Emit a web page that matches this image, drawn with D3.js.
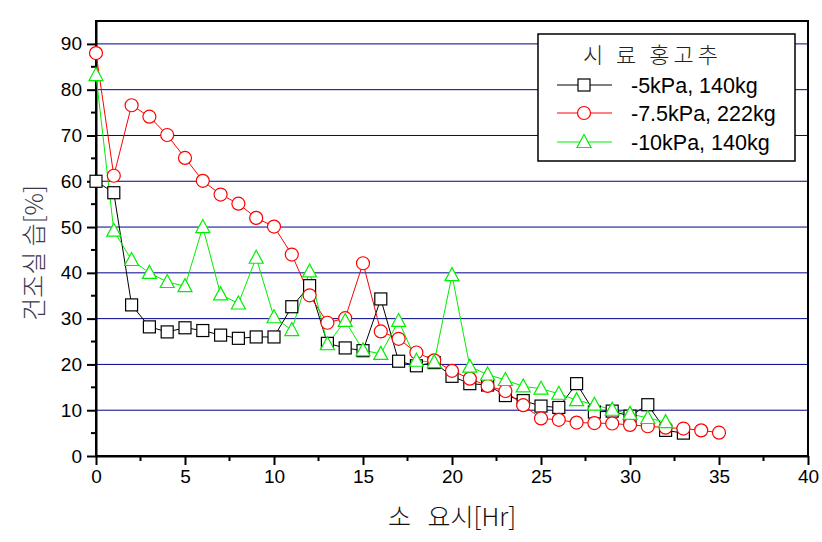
<!DOCTYPE html>
<html><head><meta charset="utf-8">
<script src="https://cdn.jsdelivr.net/npm/d3@7/dist/d3.min.js"></script>
<style>body{margin:0;background:#fff}svg{display:block}</style>
</head><body>
<svg id="c" width="822" height="542"></svg>
<script>
const xBlack = d3.range(0, 34);
const yBlack = [60,57.5,33,28.2,27.1,28,27.4,26.4,25.7,26,26,32.6,37.2,24.6,23.6,23,34.3,20.7,19.7,20.4,17.4,15.8,15.5,13.2,12.1,10.9,10.6,15.8,9.6,9.8,8.7,11.2,5.6,5];
const xRed = d3.range(0, 36);
const yRed = [88,61.2,76.6,74.1,70.1,65.1,60.1,57.1,55.1,52,50.1,44,35.1,29.1,30.1,42.1,27.2,25.6,22.6,20.9,18.6,16.9,15.3,14.2,11.1,8.2,7.9,7.3,7.2,7.1,6.8,6.5,6.2,6,5.6,5.1];
const xGreen = d3.range(0, 33);
const yGreen = [83.2,49.2,42.8,40,38,37.1,50,35.3,33.3,43.3,30.3,27.5,40.3,24.4,29.5,23.1,22.3,29.5,20.8,20.5,39.5,19.5,17.8,16.6,15.2,14.7,13.6,12.2,11.2,10.1,9.2,8.3,7.4];
const seriesNames = ["-5kPa, 140kg", "-7.5kPa, 222kg", "-10kPa, 140kg"];
const legendTitle = "시 료 홍고추";
const xTitle = "소\u00a0\u00a0\u00a0요시[Hr]";
const yTitle = "건조실\u00a0습[%]";
const xTicks = [0,5,10,15,20,25,30,35,40];
const yTicks = [0,10,20,30,40,50,60,70,80,90];

const svg = d3.select("#c");
const L = 96, R = 808, T = 21, B = 456;
const x = d3.scaleLinear().domain([0,40]).range([L,R]);
const y = d3.scaleLinear().domain([0,95]).range([B,T]);
const font = "'Liberation Sans', Arial, sans-serif";
const kfont = "'Noto Sans CJK KR', sans-serif";

// gridlines
svg.append("g").selectAll("line").data(yTicks.filter(d=>d>0)).join("line")
  .attr("x1",L).attr("x2",R).attr("y1",d=>y(d)).attr("y2",d=>y(d))
  .attr("stroke","#00008b").attr("stroke-width",1);

// frame
svg.append("rect").attr("x",L).attr("y",T).attr("width",R-L).attr("height",B-T)
  .attr("fill","none").attr("stroke","#000").attr("stroke-width",2);

// axes
const xAxis = d3.axisBottom(x).tickValues(xTicks).tickSize(9).tickSizeOuter(0);
const gx = svg.append("g").attr("transform",`translate(0,${B})`).call(xAxis);
const yAxis = d3.axisLeft(y).tickValues(yTicks).tickSize(9).tickSizeOuter(0);
const gy = svg.append("g").attr("transform",`translate(${L},0)`).call(yAxis);
[gx,gy].forEach(g=>{
  g.select(".domain").attr("stroke","#000").attr("stroke-width",2);
  g.selectAll(".tick line").attr("stroke","#000").attr("stroke-width",2);
  g.selectAll(".tick text").attr("fill","#000").style("font-family",font).style("font-size","19px");
});
gx.selectAll(".tick text").attr("dy","0.71em").attr("y",14);
gy.selectAll(".tick text").attr("x",-14);
// minor ticks
const xMinor = d3.range(2.5,40,5);
svg.append("g").selectAll("line").data(xMinor).join("line")
  .attr("x1",d=>x(d)).attr("x2",d=>x(d)).attr("y1",B).attr("y2",B+5)
  .attr("stroke","#000").attr("stroke-width",2);
const yMinor = d3.range(5,95,10);
svg.append("g").selectAll("line").data(yMinor).join("line")
  .attr("x1",L-5).attr("x2",L).attr("y1",d=>y(d)).attr("y2",d=>y(d))
  .attr("stroke","#000").attr("stroke-width",2);

// axis titles
svg.append("text").attr("x",452).attr("y",526).attr("text-anchor","middle")
  .style("font-family",kfont).style("font-size","25px").style("font-weight","300").attr("fill","#111").text(xTitle);
svg.append("text").attr("transform",`translate(43,${253}) rotate(-90)`).attr("text-anchor","middle")
  .style("font-family",kfont).style("font-size","25px").style("font-weight","300").attr("fill","#3a3a4a").text(yTitle);

const series = [
  {xs:xBlack, ys:yBlack, color:"#000000", shape:"square"},
  {xs:xRed, ys:yRed, color:"#ff0000", shape:"circle"},
  {xs:xGreen, ys:yGreen, color:"#00ee00", shape:"triangle"}
];
function marker(g, shape, color){
  if(shape==="square") g.append("rect").attr("x",-6).attr("y",-6).attr("width",12).attr("height",12)
    .attr("fill","#fff").attr("stroke",color).attr("stroke-width",1.2);
  else if(shape==="circle") g.append("circle").attr("r",6.5)
    .attr("fill","#fff").attr("stroke",color).attr("stroke-width",1.2);
  else g.append("path").attr("d","M0,-7.5L7,5.5L-7,5.5Z")
    .attr("fill","#fff").attr("stroke",color).attr("stroke-width",1.2);
}
const line = d3.line().x(d=>x(d[0])).y(d=>y(d[1]));
series.forEach(s=>{
  const pts = s.xs.map((v,i)=>[v,s.ys[i]]);
  svg.append("path").attr("d",line(pts)).attr("fill","none").attr("stroke",s.color).attr("stroke-width",1);
});
series.forEach(s=>{
  const pts = s.xs.map((v,i)=>[v,s.ys[i]]);
  pts.forEach(p=>{
    const g = svg.append("g").attr("transform",`translate(${x(p[0])},${y(p[1])})`);
    marker(g, s.shape, s.color);
  });
});

// legend
const lg = svg.append("g");
lg.append("rect").attr("x",538).attr("y",34).attr("width",257).attr("height",127)
  .attr("fill","#fff").attr("stroke","#000").attr("stroke-width",1.5);
lg.append("text").attr("x",583).attr("y",63).style("font-family",kfont).style("font-size","22px")
  .style("font-weight","300").style("letter-spacing","4px").attr("fill","#222").text(legendTitle);
const rowsY = [85,113,142];
series.forEach((s,i)=>{
  lg.append("line").attr("x1",557).attr("x2",612).attr("y1",rowsY[i]).attr("y2",rowsY[i])
    .attr("stroke",s.color).attr("stroke-width",1);
  const g = lg.append("g").attr("transform",`translate(584,${rowsY[i]})`);
  marker(g, s.shape, s.color);
  lg.append("text").attr("x",631).attr("y",rowsY[i]).attr("dy","0.36em")
    .style("font-family",font).style("font-size","21.5px").attr("fill","#000").text(seriesNames[i]);
});
</script>
</body></html>
